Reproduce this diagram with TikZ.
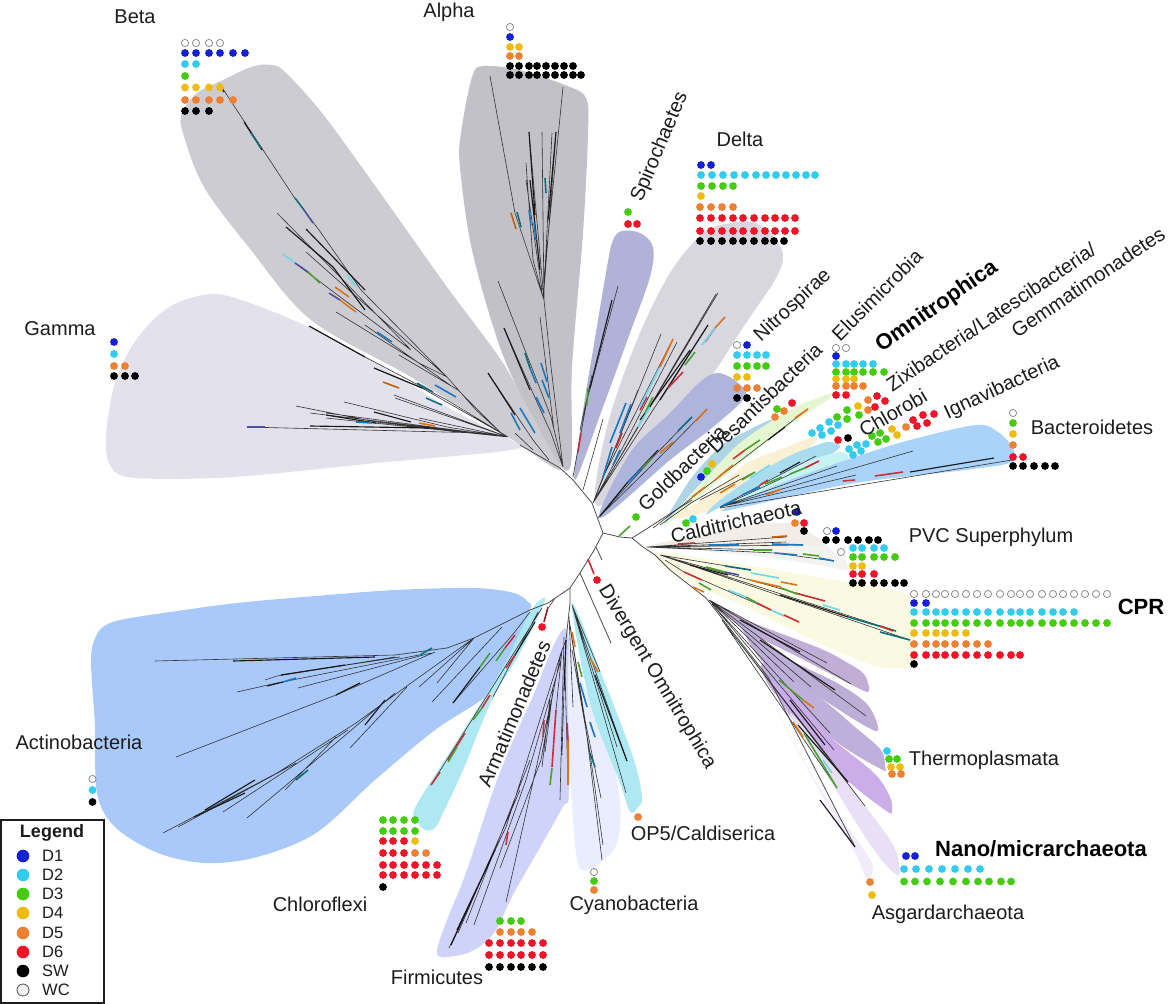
\documentclass[tikz,border=0pt]{standalone}
\usepackage{fontspec}
\setmainfont{Liberation Sans}
\definecolor{dOne}{HTML}{1420D8}
\definecolor{dTwo}{HTML}{33CCEE}
\definecolor{dThree}{HTML}{44CC11}
\definecolor{dFour}{HTML}{F0BB10}
\definecolor{dFive}{HTML}{EE8033}
\definecolor{dSix}{HTML}{F01428}
\definecolor{wcGray}{HTML}{8A8A8A}
\definecolor{ink}{HTML}{1C1C1C}
\definecolor{segBlue}{HTML}{1A78C0}
\definecolor{segTeal}{HTML}{0F6F78}
\definecolor{segOrange}{HTML}{DC7414}
\definecolor{segRed}{HTML}{C83038}
\definecolor{segGreen}{HTML}{4AA030}
\definecolor{segCyan}{HTML}{70D8E8}
\definecolor{segPurple}{HTML}{50509A}
\tikzset{
    lab/.style={font=\fontsize{20}{22}\selectfont,text=ink,inner sep=0pt},
    labbold/.style={font=\fontsize{22}{24}\selectfont\bfseries,text=black,inner sep=0pt},
    legtext/.style={font=\fontsize{16.5}{18}\selectfont,text=ink,inner sep=0pt,anchor=west},
    trunk/.style={draw=black!70,line width=0.8pt,line join=round},
    leaf/.style={draw=black!80,line width=0.6pt},
    thickleaf/.style={draw=black!90,line width=1.15pt},
    seg/.style={draw=#1,line width=1.6pt}
}
\newcommand{\dotrow}[3]{\foreach \xx in {#3} \fill[#1] (\xx,#2) circle[radius=3.9];}
\newcommand{\dotset}[2]{\foreach \pp in {#2} \fill[#1] \pp circle[radius=3.9];}
\newcommand{\wcrow}[2]{\foreach \xx in {#2} \draw[wcGray,fill=white,line width=0.8pt] (\xx,#1) circle[radius=3.6];}
\newcommand{\cladeshape}[2]{\definecolor{cladecol}{HTML}{#1}\fill[cladecol] plot[smooth cycle,tension=0.55] coordinates {#2};}
\begin{document}
\begin{tikzpicture}[x=1pt,y=-1pt]
\useasboundingbox (0,0) rectangle (1170,1004);
% clade shading
\cladeshape{E3E2EC}{(511,440) (511,450) (376,463) (233,477) (136,478) (111,467) (106,437) (115,383) (136,340) (169,307) (211,294) (247,302) (311,328) (376,363) (447,407)}
\cladeshape{CDCCD3}{(219,82) (251,67) (272,65) (286,73) (322,113) (376,187) (447,287) (501,360) (533,417) (561,470) (508,437) (411,377) (311,320) (251,250) (204,187) (183,133) (182,113) (197,93)}
\cladeshape{C2C1C7}{(483,66) (519,70) (565,85) (586,98) (588,133) (583,233) (572,367) (569,470) (533,417) (501,350) (472,250) (460,167) (461,133) (472,77)}
\cladeshape{B0B2D8}{(622,231) (640,233) (653,247) (650,277) (630,333) (603,407) (575,480) (582,417) (593,350) (607,267) (613,240)}
\cladeshape{D8D7E0}{(703,233) (730,223) (752,222) (771,233) (783,255) (775,280) (746,323) (691,407) (640,470) (596,505) (607,427) (637,340) (670,273)}
\cladeshape{ADB5DC}{(718,373) (737,382) (745,397) (713,427) (670,460) (600,518) (630,453) (670,413) (700,382)}
\cladeshape{AED4E6}{(770,420) (771,424) (740,445) (720,463) (690,495) (664,524) (690,480) (720,447) (745,432)}
\cladeshape{E6F6D0}{(832,393) (830,398) (787,427) (753,453) (720,480) (690,505) (664,526) (720,463) (740,443) (770,422) (800,405)}
\cladeshape{FAF0D4}{(813,437) (817,440) (793,460) (753,487) (720,507) (675,518) (720,487) (747,463) (787,447)}
\cladeshape{AADCF0}{(830,442) (840,447) (820,460) (770,480) (720,507) (706,514) (720,500) (753,477) (787,457) (817,445)}
\cladeshape{C8F3F5}{(840,452) (848,460) (820,470) (770,490) (720,508) (712,512) (737,498) (770,481) (803,463)}
\cladeshape{A9D3F8}{(976,425) (998,432) (1012,447) (1012,462) (965,470) (855,483) (753,505) (722,510) (782,483) (855,457) (910,440)}
\cladeshape{F2F2F0}{(647,547) (746,540) (812,536) (834,553) (845,560) (846,570) (819,565) (746,555) (673,549)}
\cladeshape{F2EDE8}{(647,547) (709,533) (753,525) (782,523) (797,525) (812,534) (823,545) (790,545) (720,546)}
\cladeshape{FAFAE3}{(655,553) (746,565) (837,580) (892,590) (910,597) (914,620) (914,663) (892,668) (866,663) (819,643) (746,607) (691,583)}
\cladeshape{C0AED6}{(709,600) (746,620) (819,648) (848,663) (863,673) (868,683) (868,692) (852,685) (804,660) (746,630)}
\cladeshape{BDAED8}{(740,620) (782,655) (837,683) (866,703) (877,723) (876,731) (855,720) (819,697) (764,663)}
\cladeshape{BFB0DB}{(764,663) (819,697) (855,727) (881,750) (885,767) (883,770) (848,750) (812,723) (772,690)}
\cladeshape{CBAEE9}{(782,680) (826,733) (874,773) (890,797) (892,810) (888,812) (855,787) (819,753) (775,693)}
\cladeshape{E9DFF6}{(790,713) (834,763) (863,803) (892,843) (899,863) (897,875) (874,850) (834,787)}
\cladeshape{F2ECFA}{(775,707) (819,787) (855,837) (872,863) (872,873) (866,878) (855,853) (815,783)}
\cladeshape{A9C9FB}{(530,610) (528,602) (514,593) (474,588) (395,590) (315,596) (237,603) (170,612) (125,619) (106,625) (96,636) (91,660) (95,727) (97,793) (115,827) (158,853) (206,863) (257,857) (316,833) (375,780) (435,730) (490,693) (510,657)}
\cladeshape{AEE8F3}{(545,600) (520,653) (492,700) (463,770) (443,813) (435,828) (425,830) (416,820) (416,806) (453,747) (503,667) (530,612)}
\cladeshape{CFD3F9}{(567,630) (569,787) (561,810) (514,893) (494,933) (470,952) (443,957) (437,950) (447,920) (467,870) (497,780) (530,703)}
\cladeshape{E9EDFD}{(570,633) (577,670) (607,737) (620,803) (617,843) (601,862) (585,870) (577,860) (572,803) (568,703)}
\cladeshape{AEE8F3}{(572,603) (600,670) (633,757) (642,797) (638,807) (630,812) (620,783) (590,703)}
% backbone
\draw[trunk] (520,445) -- (560,468) -- (573,480) -- (592,503) -- (603,533) -- (593,552) -- (580,573) -- (570,588) -- (548,603) -- (530,610);
\draw[trunk] (603,533) -- (620,537) -- (632,538) -- (643,547) -- (655,555) -- (670,570) -- (706,598) -- (768,677) -- (855,847);
\draw[trunk] (632,538) -- (648,528) -- (668,515) -- (692,500);
\draw[trunk] (570,588) -- (570,603) -- (566,640);
\draw[trunk] (580,573) -- (611,643);
\draw[trunk] (596,547) -- (602,560);
\draw[seg=segGreen] (619,536) -- (630,526);
\draw[seg=segRed] (588,559) -- (594,574);
% alpha
\draw[leaf] (490,76) -- (515,213) -- (544,300) -- (551,367) -- (563,467) (563,87) -- (544,277) -- (544,300) (529,132) -- (544,300) (542,132) -- (544,300) (556,132) -- (544,290) (552,133) -- (544,290) (526,163) -- (533,260) -- (544,300) (526,180) -- (542,290) (498,281) -- (551,417) -- (563,467) (504,328) -- (536,400) -- (551,433) -- (563,467) (488,373) -- (533,440) -- (549,460) (540,317) -- (554,430);
\draw[thickleaf] (529,132) -- (535,215) (556,132) -- (548,220) (504,328) -- (530,390) (488,373) -- (515,415) (530,180) -- (540,270);
\draw[seg=segOrange!85!black] (511,213) -- (516,229);
\draw[seg=segTeal] (517,212) -- (521,227) (545,178) -- (546,193) (525,353) -- (530,368);
\draw[seg=segBlue] (529,210) -- (531,225) (534,223) -- (536,240) (530,368) -- (536,383) (541,363) -- (547,382) (542,380) -- (549,398) (536,397) -- (544,413) (520,408) -- (535,433) (511,413) -- (520,430);
% beta
\draw[leaf] (219,83) -- (294,197) -- (319,230) -- (361,290) -- (447,377) -- (476,410) -- (501,433) (277,213) -- (340,277) -- (411,350) (306,252) -- (386,323) -- (447,377) (336,312) -- (419,363) -- (447,377) (365,325) -- (450,385) (399,355) -- (458,390) -- (501,433) (283,254) -- (411,350);
\draw[thickleaf] (286,227) -- (333,267) -- (365,310) (306,229) -- (365,290) (219,83) -- (224,92) (244,122) -- (262,150);
\draw[seg=segCyan] (283,254) -- (295,263) (347,275) -- (356,287);
\draw[seg=segPurple] (295,263) -- (308,272) (304,210) -- (313,223);
\draw[seg=segGreen] (308,272) -- (320,283);
\draw[seg=segOrange] (335,287) -- (349,297) (340,300) -- (356,312);
\draw[seg=segPurple] (329,293) -- (340,300);
\draw[seg=segTeal] (295,198) -- (304,210) (251,133) -- (261,148);
\draw[seg=segBlue] (377,332) -- (392,342);
\draw[seg=dFour] (219,83) -- (222,88);
% gamma
\draw[leaf] (309,326) -- (365,357) -- (447,400) -- (508,437) (374,368) -- (422,388) -- (508,437) (394,395) -- (508,437) (395,398) -- (508,437) (344,402) -- (447,427) -- (508,437) (296,406) -- (376,422) -- (508,437) (310,413) -- (508,437) (326,413) -- (508,437) (326,418) -- (508,437) (247,427) -- (483,433) -- (508,437) (419,418) -- (508,437) (479,433) -- (508,437) (515,433) -- (533,450);
\draw[thickleaf] (309,326) -- (365,357) (374,412) -- (411,422) (310,426) -- (429,428) (326,415) -- (376,423) (374,368) -- (422,388);
\draw[seg=segPurple] (247,427) -- (265,427);
\draw[seg=segOrange!85!black] (383,382) -- (399,388);
\draw[seg=segTeal] (417,383) -- (433,392) (426,398) -- (442,405);
\draw[seg=segBlue] (435,385) -- (456,397) (356,422) -- (372,423);
\draw[seg=segOrange] (419,423) -- (435,426);
% spirochaetes
\draw[leaf] (618,286) -- (587,400) -- (573,477) (592,375) -- (580,430) (603,419) -- (583,490);
\draw[thickleaf] (612,300) -- (590,388);
\draw[seg=segGreen] (588,388) -- (587,405);
\draw[seg=segRed] (581,433) -- (578,452);
% delta
\draw[leaf] (718,293) -- (593,503) (716,294) -- (593,503) (708,325) -- (593,503) (661,334) -- (593,503) (673,339) -- (603,477) -- (593,503) (677,342) -- (623,447) -- (593,503) (638,390) -- (593,503);
\draw[thickleaf] (708,325) -- (660,400) (690,350) -- (640,420);
\draw[seg=segOrange] (725,317) -- (715,328) (673,339) -- (660,367);
\draw[seg=segRed] (715,328) -- (705,342) (683,372) -- (668,388) (647,397) -- (640,410) (622,433) -- (616,448);
\draw[seg=segGreen] (695,352) -- (685,365) (653,397) -- (645,413);
\draw[seg=segCyan] (660,367) -- (640,407) (650,407) -- (638,427) (715,328) -- (702,345);
\draw[seg=segBlue] (626,403) -- (610,443) (631,404) -- (620,433) (612,447) -- (603,477) (620,450) -- (613,465);
% goldbacteria
\draw[leaf] (707,409) -- (650,467) -- (598,518) (692,417) -- (657,453) -- (598,518);
\draw[thickleaf] (658,450) -- (627,483) -- (600,516);
\draw[seg=segOrange] (707,409) -- (696,421) (673,442) -- (660,453);
\draw[seg=segTeal] (692,417) -- (678,431);
\draw[seg=segBlue] (642,468) -- (628,482);
\draw[seg=segGreen] (652,458) -- (642,468);
% omnitrophica and neighbours
\draw[leaf] (808,409) -- (702,490) -- (653,528) (739,475) -- (691,503) -- (660,525) (816,456) -- (770,480) -- (720,507) (913,451) -- (720,507) (1012,460) -- (720,508) (856,475) -- (720,507) (837,466) -- (720,507) (819,461) -- (720,507) (755,472) -- (700,500);
\draw[thickleaf] (785,427) -- (768,440) (910,472) -- (994,458) (800,462) -- (780,473);
\draw[seg=segOrange] (808,409) -- (795,418) (733,465) -- (715,480) (705,487) -- (692,497) (766,495) -- (782,489) (720,493) -- (735,484);
\draw[seg=segGreen] (760,440) -- (745,450) (790,474) -- (805,468) (755,472) -- (742,480) (782,477) -- (765,484);
\draw[seg=segRed] (745,450) -- (733,459) (819,461) -- (805,468) (903,472) -- (875,476) (855,480) -- (843,481) (768,480) -- (760,485);
\draw[seg=segCyan] (770,465) -- (750,478);
\draw[seg=segBlue] (760,487) -- (742,495) (735,500) -- (722,506);
% pvc
\draw[leaf] (786,537) -- (647,547) (786,542) -- (647,547) (803,545) -- (647,547) (772,550) -- (647,547) (834,561) -- (775,553) -- (647,547);
\draw[seg=segOrange!85!black] (787,536) -- (772,537);
\draw[seg=segBlue] (772,544) -- (803,545) (834,561) -- (819,558) (797,555) -- (775,553) (739,545) -- (709,545);
\draw[seg=segGreen] (753,550) -- (772,550) (819,556) -- (803,554);
\draw[seg=segRed] (695,543) -- (678,544);
% cpr
\draw[leaf] (751,570) -- (660,555) (825,601) -- (660,555) (896,631) -- (660,555) (910,640) -- (660,555) (799,622) -- (684,572) -- (665,560);
\draw[thickleaf] (848,617) -- (780,595) (728,575) -- (690,565);
\draw[seg=segTeal] (751,570) -- (725,566) (848,617) -- (896,631) (880,632) -- (910,640);
\draw[seg=segOrange] (797,585) -- (781,582) (750,580) -- (781,587) (704,592) -- (693,587);
\draw[seg=segCyan] (779,578) -- (751,573) (771,610) -- (784,616) (728,590) -- (746,597) (823,605) -- (840,610);
\draw[seg=segRed] (795,593) -- (825,601) (799,622) -- (784,615) (757,603) -- (771,610) (684,572) -- (702,580) (880,626) -- (893,631);
\draw[seg=segGreen] (746,597) -- (757,603) (711,590) -- (699,583) (781,588) -- (797,594) (706,567) -- (725,572);
\draw[seg=segPurple] (725,572) -- (739,575);
% archaea
\draw[leaf] (709,600) -- (827,663) (709,600) -- (851,684) (709,600) -- (866,716) (709,600) -- (811,687) (709,600) -- (794,682) (712,604) -- (834,750) (712,604) -- (830,733) (722,620) -- (865,806) (722,620) -- (848,782) (722,620) -- (837,788);
\draw[thickleaf] (740,620) -- (800,652) (760,640) -- (835,690) (798,725) -- (848,782) (820,800) -- (855,847) (790,700) -- (825,745);
\draw[seg=segGreen] (779,680) -- (803,700) (804,733) -- (837,788);
\draw[seg=segOrange] (803,700) -- (814,708) (793,722) -- (803,737);
\draw[seg=segCyan] (823,760) -- (832,773);
% actinobacteria
\draw[trunk] (530,610) -- (474,638) -- (447,648) -- (395,655);
\draw[leaf] (155,661) -- (395,655) (237,692) -- (277,683) -- (419,655) (265,680) -- (277,676) -- (395,657) (281,675) -- (400,657) (298,688) -- (431,653) (176,757) -- (292,712) -- (336,695) -- (435,652) (163,833) -- (277,773) -- (356,723) -- (411,683) -- (474,638) (178,827) -- (296,763) (223,812) -- (348,730) (247,818) -- (316,760) -- (395,693) (285,790) -- (336,737) (350,748) -- (407,687) (419,687) -- (474,638) (437,683) -- (474,638) (432,702) -- (502,627) (453,703) -- (514,633) -- (530,612);
\draw[thickleaf] (233,661) -- (375,657) (281,675) -- (345,665) (267,686) -- (283,682) (336,695) -- (360,683) (194,817) -- (245,793) (205,810) -- (255,780) (365,725) -- (385,700) (453,703) -- (480,667);
\draw[seg=segBlue] (283,682) -- (296,678);
\draw[seg=segTeal] (296,780) -- (308,770) (420,655) -- (432,648);
\draw[seg=segGreen] (480,667) -- (490,653) (496,661) -- (505,648);
\draw[seg=segRed] (505,648) -- (515,635);
% armatimonadetes
\draw[leaf] (431,785) -- (542,608) (493,697) -- (538,612) (555,598) -- (549,607);
\draw[seg=segRed] (431,785) -- (440,772) (448,760) -- (465,733) (482,708) -- (490,695) (506,668) -- (515,655);
\draw[seg=segGreen] (448,762) -- (457,747) (473,720) -- (482,708);
\draw[seg=segRed!70!black] (548,607) -- (544,622);
\draw[thickleaf] (515,655) -- (535,622);
% firmicutes
\draw[leaf] (449,948) -- (506,827) -- (561,653) -- (566,640) (474,925) -- (526,780) -- (561,660) (506,902) -- (553,693) -- (561,653) (500,868) -- (541,760) -- (553,693) (466,923) -- (530,760) (458,933) -- (520,790) (560,800) -- (564,637) (568,785) -- (565,670) -- (566,640) (556,710) -- (562,650) (545,752) -- (553,690) (542,767) -- (550,700) (562,755) -- (564,690) (573,707) -- (569,617);
\draw[thickleaf] (451,945) -- (490,860) (457,930) -- (495,850) (564,690) -- (566,640);
\draw[seg=segOrange] (568,740) -- (568,785);
\draw[seg=segRed] (567,723) -- (568,740) (552,767) -- (556,710) (544,720) -- (543,737) (508,832) -- (506,845);
\draw[seg=segGreen] (550,785) -- (552,768);
% cyanobacteria
\draw[leaf] (602,860) -- (587,737) -- (569,620) (603,845) -- (590,753) -- (572,650) (601,798) -- (585,720) -- (570,625);
\draw[seg=segBlue] (595,737) -- (590,722) (587,707) -- (580,683);
\draw[seg=segGreen] (582,677) -- (578,662);
\draw[seg=segOrange] (575,647) -- (572,632);
\draw[seg=segTeal] (595,767) -- (590,753);
% op5
\draw[leaf] (626,793) -- (572,605) (627,761) -- (572,605) (617,747) -- (572,605) (600,672) -- (572,605);
\draw[thickleaf] (627,761) -- (595,675);
\draw[seg=segOrange] (598,672) -- (590,658);
% beta dots
\wcrow{43}{185,196,209,220}
\dotrow{dOne}{53}{185,196,209,220,233,245}
\dotrow{dTwo}{64}{185,196}
\dotrow{dThree}{76}{185}
\dotrow{dFour}{87.5}{185,196,209,220}
\dotrow{dFive}{100}{185,196,209,220,233}
\dotrow{black}{111}{185,196,209}
% alpha dots
\wcrow{27}{510}
\dotrow{dOne}{37}{510}
\dotrow{dFour}{47}{510,519}
\dotrow{dFive}{56}{510,519}
\dotrow{black}{66}{510,519,529,537,546,555,564,573}
\dotrow{black}{75}{510,519,529,537,546,555,564,573,581}
% gamma dots
\dotrow{dOne}{342}{114}
\dotrow{dTwo}{354}{114}
\dotrow{dFive}{366}{114,125}
\dotrow{black}{376}{114,125,135}
% spirochaetes dots
\dotrow{dThree}{212}{628}
\dotrow{dSix}{224}{628,637}
% delta dots
\dotrow{dOne}{165}{701,711}
\dotrow{dTwo}{175}{701,712,723,734,745,756,766,776,786,796,806,815}
\dotrow{dThree}{186}{701,712,723,733}
\dotrow{dFour}{196}{701}
\dotrow{dFive}{207}{700,711,722,733}
\dotrow{dSix}{218}{700,711,722,733,743,754,765,775,785,795}
\dotrow{dSix}{231}{700,711,722,733,743,754,765,775,785,795}
\dotrow{black}{241}{700,711,722,733,743,754,765,774,784}
% nitrospirae dots
\wcrow{345}{737}
\dotrow{dOne}{345}{747}
\dotrow{dTwo}{355}{737,747,757,766}
\dotrow{dThree}{366}{737,747,757,766}
\dotrow{dFour}{377}{737,747}
\dotrow{dFive}{388}{737,747,757}
\dotrow{black}{398}{737,747}
% omnitrophica dots
\wcrow{348}{836,846}
\dotrow{dOne}{356}{836}
\dotrow{dTwo}{364}{836,846,854,863,873}
\dotrow{dThree}{372}{836,846,854,863,873,884}
\dotrow{dFour}{379}{836,846,854}
\dotrow{dFive}{386}{836,846,854,863}
\dotrow{dSix}{395}{836,846}
% scattered dots
\dotset{dSix}{(792,403),(877,396),(885,401),(875,407),(838,440),(913,420),(923,415),(934,414),(917,426),(927,423),(804,523)}
\dotset{dThree}{(777,409),(707,471),(636,517),(686,523),(837,417),(847,410),(847,419),(859,415),(872,436),(880,433),(886,439),(878,442)}
\dotset{dFive}{(784,411),(775,417),(868,400),(868,410),(906,427),(795,523)}
\dotset{dOne}{(701,477),(797,512)}
\dotset{dFour}{(712,464),(858,406),(892,429),(897,435)}
\dotset{dTwo}{(693,519),(812,433),(820,428),(829,422),(838,425),(831,431),(822,435),(849,449),(857,445),(866,444),(861,451),(853,455)}
\dotset{black}{(848,438),(804,531)}
% bacteroidetes dots
\wcrow{413}{1013}
\dotrow{dThree}{423}{1013}
\dotrow{dFour}{434}{1013}
\dotrow{dFive}{445}{1013}
\dotrow{dSix}{457}{1013,1023}
\dotrow{black}{466}{1013,1023,1034,1045,1055}
% pvc dots
\wcrow{531}{827}
\dotrow{dOne}{531}{836}
\dotrow{black}{540}{826,836,848,858,869,878}
\wcrow{552}{841}
\dotrow{dTwo}{548}{853,862,874,884}
\dotrow{dThree}{557}{853,862,874,884,895}
\dotrow{dFour}{566}{853,862}
\dotrow{dSix}{574}{853,862,874}
\dotrow{black}{583}{853,862,874,884,895,904}
% cpr dots
\wcrow{594}{914,926,936,945,955,966,977,988,1000,1011,1020,1030,1042,1053,1063,1074,1085,1096,1107}
\dotrow{dOne}{603}{914,926}
\dotrow{dTwo}{612}{914,926,936,945,955,966,977,988,1000,1011,1020,1030,1042,1053,1063,1074}
\dotrow{dThree}{623}{914,926,936,945,955,966,977,988,1000,1011,1020,1030,1042,1053,1063,1074,1085,1096,1107}
\dotrow{dFour}{633}{914,926,936,945,955,966}
\dotrow{dFive}{644}{914,926,936,945,955,966,977,988}
\dotrow{dSix}{655}{914,926,936,945,955,966,977,988,1000,1011,1020}
\dotrow{black}{664}{914}
% thermoplasmata dots
\dotrow{dTwo}{751}{887}
\dotrow{dThree}{759}{889,897}
\dotrow{dFour}{767}{891,900}
\dotrow{dFive}{774}{892,901}
% nano dots
\dotrow{dOne}{856}{906,915}
\dotrow{dTwo}{869}{904,916,929,942,955,968,980}
\dotrow{dThree}{881.5}{904,915,927,940,953,966,978,989,1001,1011}
\dotrow{dFive}{882}{870}
\dotrow{dFour}{895}{872}
\dotrow{dFive}{817}{638}
% cyanobacteria dots
\wcrow{872}{594}
\dotrow{dThree}{881}{594}
\dotrow{dFive}{890}{594}
% firmicutes dots
\dotrow{dThree}{921}{500,511,521}
\dotrow{dFive}{932}{500,511,521,532}
\dotrow{dSix}{943}{489,500,511,521,532,543}
\dotrow{dSix}{955}{489,500,511,521,532,543}
\dotrow{black}{967}{489,500,511,521,532,543}
% chloroflexi dots
\dotrow{dThree}{820}{383,393,404,415}
\dotrow{dThree}{831}{383,393,404,415}
\dotrow{dSix}{841}{383,393,404}
\dotrow{dFour}{841}{415}
\dotrow{dSix}{853}{383,393,404}
\dotrow{dFive}{853}{415,426}
\dotrow{dSix}{865}{383,393,404,415,426,437}
\dotrow{dSix}{875}{383,393,404,415,426,437}
\dotrow{black}{887}{383}
% actinobacteria dots
\wcrow{779}{92.5}
\dotrow{dTwo}{790}{92.5}
\dotrow{black}{802}{92.5}
% single red dots
\dotrow{dSix}{627}{542}
\dotrow{dSix}{580}{597}
% labels
\node[lab] (beta) at (135,17) {Beta};
\node[lab] (alpha) at (449,12) {Alpha};
\node[lab] (gamma) at (60,329) {Gamma};
\node[lab,rotate=67] (spiro) at (660,147) {Spirochaetes};
\node[lab] (delta) at (740,139) {Delta};
\node[lab,rotate=43] (nitro) at (793,306) {Nitrospirae};
\node[lab,rotate=45] (elusi) at (877,295) {Elusimicrobia};
\node[labbold,rotate=35] (omni) at (937,307) {Omnitrophica};
\node[lab,rotate=34] (zixi) at (991,317) {Zixibacteria/Latescibacteria/};
\node[lab,rotate=34] (gemma) at (1088,282) {Gemmatimonadetes};
\node[lab,rotate=44] (desan) at (765,398) {Desantisbacteria};
\node[lab,rotate=44] (gold) at (682,468) {Goldbacteria};
\node[lab,rotate=13] (caldi) at (736,522) {Calditrichaeota};
\node[lab,rotate=30] (chlor) at (893,413) {Chlorobi};
\node[lab,rotate=25] (ignav) at (1002,388) {Ignavibacteria};
\node[lab] (bacte) at (1092,427) {Bacteroidetes};
\node[lab] (pvc) at (991,537) {PVC Superphylum};
\node[labbold] (cpr) at (1141,607) {CPR};
\node[lab] (thermo) at (984,760) {Thermoplasmata};
\node[labbold] (nano) at (1041,849) {Nano/micrarchaeota};
\node[lab] (asgard) at (948,914) {Asgardarchaeota};
\node[lab] (op5) at (703,833) {OP5/Caldiserica};
\node[lab] (cyano) at (634,905) {Cyanobacteria};
\node[lab] (chlfl) at (320,904) {Chloroflexi};
\node[lab] (firmi) at (437,977) {Firmicutes};
\node[lab] (actin) at (79,742) {Actinobacteria};
\node[lab,rotate=67] (armat) at (514,714) {Armatimonadetes};
\node[lab,rotate=-59] (divom) at (657,677) {Divergent Omnitrophica};
% legend
\draw[ink,line width=1.2pt,fill=white] (1,820) rectangle (104,1003);
\node[font=\fontsize{18}{20}\selectfont\bfseries,text=ink,inner sep=0pt] (legend) at (52,833) {Legend};
\foreach \nm/\col/\yy in {D1/dOne/856,D2/dTwo/875,D3/dThree/894,D4/dFour/913,D5/dFive/933,D6/dSix/952,SW/black/971}{
    \fill[\col] (23,\yy) circle[radius=6.3];
    \node[legtext] (key\nm) at (42,\yy) {\nm};
}
\draw[black!70,fill=black!5,line width=0.8pt] (23,990) circle[radius=6];
\node[legtext] (keyWC) at (42,990) {WC};
\end{tikzpicture}
\end{document}
